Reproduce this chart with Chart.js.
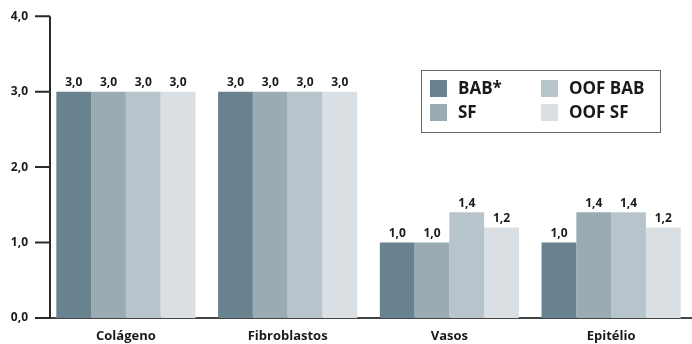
<!DOCTYPE html>
<html><head><meta charset="utf-8">
<script src="https://cdn.jsdelivr.net/npm/chart.js@4.4.1/dist/chart.umd.min.js"></script>
<style>html,body{margin:0;padding:0;background:#fff}#wrap{width:692px;height:344px}</style>
</head><body><div id="wrap"><canvas id="c" width="692" height="344"></canvas></div>
<script>
const categories = ["Colágeno", "Fibroblastos", "Vasos", "Epitélio"];
const seriesNames = ["BAB*", "SF", "OOF BAB", "OOF SF"];
const babValues = [3.0, 3.0, 1.0, 1.0];
const sfValues = [3.0, 3.0, 1.0, 1.4];
const oofBabValues = [3.0, 3.0, 1.4, 1.4];
const oofSfValues = [3.0, 3.0, 1.2, 1.2];
const yTicks = [0, 1, 2, 3, 4];
const colors = ["#68838f", "#9aabb4", "#b8c4cc", "#d9dfe3"];

const FONT = "'Open Sans', Lato, sans-serif";
const fmt = v => v.toFixed(1).replace('.', ',');

const labelPlugin = {
  id: 'vals',
  afterDatasetsDraw(chart) {
    const ctx = chart.ctx;
    ctx.save();
    ctx.font = "bold 12px " + FONT;
    ctx.fillStyle = "#1a1a1a";
    ctx.textAlign = "center";
    ctx.textBaseline = "bottom";
    chart.data.datasets.forEach((ds, i) => {
      chart.getDatasetMeta(i).data.forEach((bar, j) => {
        ctx.fillText(fmt(ds.data[j]), bar.x, bar.y - 3);
      });
    });
    ctx.restore();
  }
};

// y axis line and tick marks, drawn from the y scale a few px right of the chart area edge
const yAxisPlugin = {
  id: 'yAxisLine',
  afterDraw(chart) {
    const ctx = chart.ctx, ys = chart.scales.y;
    const ax = chart.chartArea.left + 5;
    ctx.save();
    ctx.strokeStyle = "#2a2a2a";
    ctx.lineWidth = 2;
    ctx.beginPath();
    ctx.moveTo(ax, ys.getPixelForValue(4));
    ctx.lineTo(ax, ys.getPixelForValue(0) + 1);
    yTicks.forEach(v => {
      const y = ys.getPixelForValue(v);
      ctx.moveTo(ax - 15, y);
      ctx.lineTo(ax, y);
    });
    ctx.stroke();
    ctx.restore();
  }
};

const legendPlugin = {
  id: 'boxLegend',
  afterDraw(chart) {
    const ctx = chart.ctx;
    ctx.save();
    ctx.strokeStyle = "#666";
    ctx.lineWidth = 1;
    ctx.strokeRect(421.5, 70.5, 239, 62);
    ctx.font = "bold 17px " + FONT;
    ctx.textBaseline = "middle";
    ctx.textAlign = "left";
    const pos = [[430, 80], [430, 104], [541, 80], [541, 104]];
    chart.data.datasets.forEach((ds, i) => {
      const [x, y] = pos[i];
      ctx.fillStyle = ds.backgroundColor;
      ctx.fillRect(x, y, 17, 17);
      ctx.fillStyle = "#1a1a1a";
      ctx.fillText(ds.label, x + 28, y + 9);
    });
    ctx.restore();
  }
};

const vals = [babValues, sfValues, oofBabValues, oofSfValues];
new Chart(document.getElementById('c'), {
  type: 'bar',
  data: {
    labels: categories,
    datasets: seriesNames.map((n, i) => ({
      label: n, data: vals[i], backgroundColor: colors[i],
      categoryPercentage: 0.86, barPercentage: 1.0, borderWidth: 0
    }))
  },
  options: {
    responsive: false, animation: false,
    layout: { padding: { top: 14, right: 0, left: 0, bottom: 0 } },
    plugins: { legend: { display: false }, tooltip: { enabled: false } },
    scales: {
      y: {
        min: 0, max: 4,
        afterBuildTicks: s => { s.ticks = yTicks.map(v => ({ value: v })); },
        afterFit: s => { s.width = 45; },
        border: { display: false },
        grid: { display: false },
        ticks: { padding: 9, color: "#1a1a1a", font: { family: FONT, size: 12, weight: 'bold' }, callback: v => fmt(v) }
      },
      x: {
        afterFit: s => { s.height = 26; },
        border: { display: true, color: "#444", width: 2 },
        grid: { display: false },
        ticks: { padding: 2, color: "#1a1a1a", font: { family: FONT, size: 13, weight: 'bold' } }
      }
    }
  },
  plugins: [labelPlugin, yAxisPlugin, legendPlugin]
});
</script>
</body></html>
